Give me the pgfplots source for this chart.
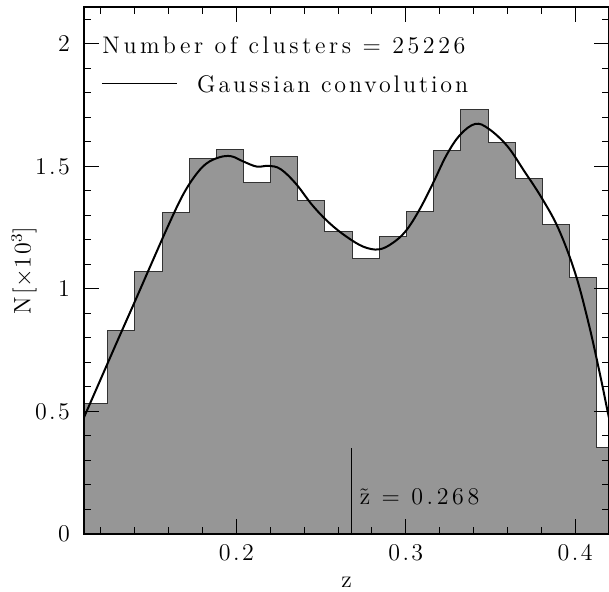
\documentclass[border=0pt]{standalone}
\usepackage{fontspec}
\setmainfont{Latin Modern Roman}[LetterSpace=10]
\newfontfamily\widefont{Latin Modern Roman}[LetterSpace=15]
\newfontfamily\midfont{Latin Modern Roman}[LetterSpace=12]
\usepackage{pgfplots}
\pgfplotsset{compat=1.18}
\definecolor{histgray}{RGB}{150,150,150}

\pgfplotstableread{
z n
0.1076 0.534
0.1237 0.832
0.1399 1.071
0.1561 1.312
0.1723 1.530
0.1882 1.569
0.2041 1.433
0.2202 1.542
0.2363 1.361
0.2522 1.234
0.2684 1.124
0.2845 1.213
0.3005 1.316
0.3165 1.565
0.3326 1.730
0.3487 1.597
0.3648 1.450
0.3809 1.263
0.3968 1.045
0.4128 0.354
0.4292 0.354
}\histdata

\pgfplotstableread{
z n
0.1100 0.476
0.1200 0.634
0.1300 0.792
0.1400 0.948
0.1500 1.106
0.1600 1.262
0.1680 1.378
0.1750 1.456
0.1820 1.510
0.1900 1.537
0.1970 1.541
0.2040 1.520
0.2120 1.499
0.2190 1.502
0.2260 1.489
0.2350 1.430
0.2450 1.340
0.2550 1.268
0.2650 1.213
0.2750 1.172
0.2840 1.161
0.2920 1.186
0.3000 1.236
0.3080 1.322
0.3160 1.430
0.3240 1.545
0.3320 1.628
0.3410 1.673
0.3490 1.653
0.3600 1.582
0.3700 1.480
0.3800 1.374
0.3900 1.248
0.4000 1.065
0.4080 0.858
0.4150 0.641
0.4194 0.493
0.4230 0.380
}\curvedata

\begin{document}
\begin{tikzpicture}[font=\fontsize{12}{14}\selectfont]
\begin{axis}[
  scale only axis, width=262.5pt, height=263.5pt,
  xmin=0.11, xmax=0.42, ymin=0, ymax=2.15,
  xtick={0.2,0.3,0.4}, xticklabels={0.2,0.3,0.4},
  minor xtick={0.12,0.14,0.16,0.18,0.22,0.24,0.26,0.28,0.32,0.34,0.36,0.38},
  ytick={0,0.5,1,1.5,2}, yticklabels={0,0.5,1,1.5,2},
  minor ytick={0.1,0.2,0.3,0.4,0.6,0.7,0.8,0.9,1.1,1.2,1.3,1.4,1.6,1.7,1.8,1.9,2.1},
  tick align=inside, major tick length=7.5pt, minor tick length=3.5pt,
  tick style={black, line width=0.5pt},
  axis line style={line width=0.7pt},
  axis on top,
  /pgf/number format/assume math mode=true,
  xticklabel style={yshift=-1.5pt},
  yticklabel style={xshift=-3.5pt},
  xlabel={z}, ylabel={N[$\times$10$^{3}$]},
  xlabel style={at={(axis description cs:0.5,0)}, anchor=base, yshift=-26.5pt},
  ylabel style={at={(axis description cs:-0.1143,0.5)}, anchor=center},
]
\addplot[const plot mark left, fill=histgray, draw=black!80, line width=0.5pt] table[x=z,y=n]{\histdata} \closedcycle;
\addplot[black, line width=1pt, smooth, tension=0.6] table[x=z,y=n]{\curvedata};
\addplot[black, line width=0.6pt] coordinates {(0.268,0) (0.268,0.35)};
\node[anchor=base west, inner sep=0, font=\fontsize{12}{14}\selectfont\widefont] at (axis cs:0.1206,1.959) {Number of clusters = 25226};
\draw[line width=0.5pt] (axis cs:0.1206,1.836) -- (axis cs:0.1648,1.836);
\node[anchor=base west, inner sep=0, font=\fontsize{12}{14}\selectfont\midfont] at (axis cs:0.1766,1.802) {Gaussian convolution};
\node[anchor=base west, inner sep=0, font=\fontsize{12}{14}\selectfont\widefont] at (axis cs:0.2726,0.119) {\~{z} = 0.268};
\end{axis}
\pgfresetboundingbox
\path ([xshift=-42pt,yshift=-28.5pt]current axis.south west) rectangle ([yshift=3.5pt]current axis.north east);
\end{tikzpicture}
\end{document}
